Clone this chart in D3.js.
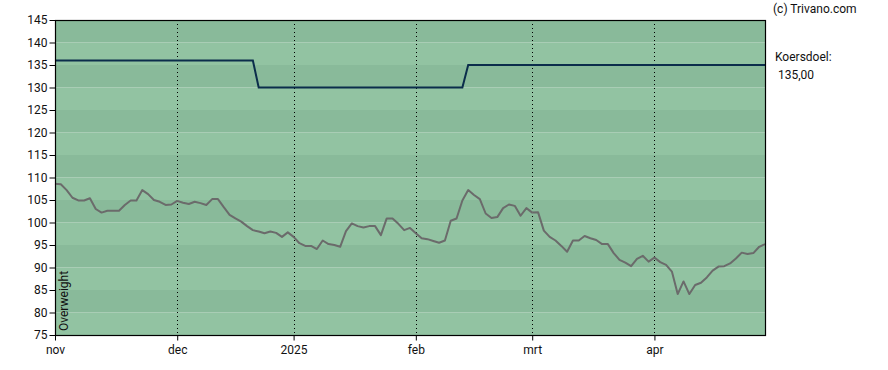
<!DOCTYPE html>
<html>
<head>
<meta charset="utf-8">
<script src="https://cdn.jsdelivr.net/npm/d3@7/dist/d3.min.js"></script>
<style>
  html, body { margin: 0; padding: 0; background: #fff; }
  svg text { font-family: Roboto, "Noto Sans", sans-serif; }
</style>
</head>
<body>
<svg id="chart" width="888" height="370"></svg>
<script>
// ---- data ----
const prices = [
  108.6, 108.5, 107.2, 105.5, 104.9, 104.9, 105.4, 103.0, 102.2, 102.6,
  102.6, 102.6, 103.9, 104.9, 104.9, 107.2, 106.3, 105.0, 104.6, 103.9,
  104.0, 104.8, 104.4, 104.1, 104.6, 104.3, 103.9, 105.2, 105.2, 103.4,
  101.7, 100.9, 100.2, 99.2, 98.3, 98.0, 97.6, 98.0, 97.7, 96.8,
  97.8, 96.8, 95.4, 94.8, 94.8, 94.1, 96.0, 95.2, 95.0, 94.6,
  98.1, 99.8, 99.2, 98.9, 99.2, 99.2, 97.2, 100.9, 100.9, 99.7,
  98.3, 98.8, 97.6, 96.5, 96.3, 95.9, 95.5, 96.0, 100.4, 100.9,
  104.9, 107.2, 106.1, 105.2, 102.0, 101.0, 101.2, 103.2, 104.0, 103.7,
  101.5, 103.2, 102.2, 102.3, 98.2, 96.8, 96.0, 94.8, 93.5, 96.0,
  96.0, 97.0, 96.5, 96.1, 95.2, 95.2, 93.2, 91.7, 91.1, 90.3,
  91.9, 92.6, 91.3, 92.2, 91.2, 90.6, 89.1, 84.1, 86.9, 84.1,
  86.1, 86.6, 87.8, 89.3, 90.2, 90.3, 90.9, 92.0, 93.3, 93.0,
  93.2, 94.6, 95.2
];
const targetIdx = [0, 34, 35, 70, 71, 122];
const targetVal = [136, 136, 130, 130, 135, 135];
const monthTickIdx = [0, 21, 41, 62, 82, 103];
const monthTickLabels = ["nov", "dec", "2025", "feb", "mrt", "apr"];
const yTicks = [75, 80, 85, 90, 95, 100, 105, 110, 115, 120, 125, 130, 135, 140, 145];
const bandStarts = [75, 80, 85, 90, 95, 100, 105, 110, 115, 120, 125, 130, 135, 140];
const ratingLabel = "Overweight";
const targetLabel = "Koersdoel:";
const targetText = "135,00";
const credit = "(c) Trivano.com";

// ---- layout ----
const L = 55, R = 765, T = 20, B = 335;
const svg = d3.select("#chart");
const x = d3.scaleLinear().domain([0, prices.length - 1]).range([L, R]);
const y = d3.scaleLinear().domain([75, 145]).range([B, T]);

// bands
svg.append("g").selectAll("rect").data(bandStarts).join("rect")
  .attr("x", L).attr("width", R - L)
  .attr("y", d => y(d + 5)).attr("height", d => y(d) - y(d + 5))
  .attr("fill", d => (d % 10 === 0) ? "#89ba9a" : "#92c3a2");

// vertical dotted grid
svg.append("g").selectAll("line").data(monthTickIdx.filter(d => d > 0)).join("line")
  .attr("x1", d => Math.round(x(d)) + 0.5).attr("x2", d => Math.round(x(d)) + 0.5)
  .attr("y1", T).attr("y2", B)
  .attr("stroke", "#000").attr("stroke-width", 1).attr("stroke-dasharray", "1,3");

// price line
svg.append("path").datum(prices)
  .attr("fill", "none").attr("stroke", "#6b6b6b").attr("stroke-width", 2)
  .attr("stroke-linejoin", "round")
  .attr("d", d3.line().x((d, i) => x(i)).y(d => y(d)));

// target line
svg.append("path").datum(targetIdx.map((d, i) => [d, targetVal[i]]))
  .attr("fill", "none").attr("stroke", "#0b2d4b").attr("stroke-width", 2)
  .attr("d", d3.line().x(d => x(d[0])).y(d => y(d[1])));

// frame
svg.append("rect").attr("x", L + 0.5).attr("y", T + 0.5)
  .attr("width", R - L).attr("height", B - T)
  .attr("fill", "none").attr("stroke", "#000").attr("stroke-width", 1.2);

// y axis
const yAxis = svg.append("g").attr("transform", `translate(${L + 0.5},0)`)
  .call(d3.axisLeft(y).tickValues(yTicks).tickSize(6).tickPadding(2).tickFormat(d3.format("d")));
yAxis.select(".domain").remove();
yAxis.selectAll("text").attr("font-size", 12).attr("fill", "#111");
yAxis.selectAll("line").attr("stroke", "#000");

// x axis
const xAxis = svg.append("g").attr("transform", `translate(0,${B + 0.5})`)
  .call(d3.axisBottom(x).tickValues(monthTickIdx).tickSize(5).tickPadding(5)
    .tickFormat((d, i) => monthTickLabels[i]));
xAxis.select(".domain").remove();
xAxis.selectAll("text").attr("font-size", 12).attr("fill", "#111");
xAxis.selectAll("line").attr("stroke", "#000");

// rating label
svg.append("text").attr("transform", `translate(67.5,${B - 4}) rotate(-90)`)
  .attr("font-size", 12).attr("fill", "#111").text(ratingLabel);

// right-side texts
svg.append("text").attr("x", 773).attr("y", 13).attr("font-size", 12).attr("fill", "#111").text(credit);
svg.append("text").attr("x", 775).attr("y", 61).attr("font-size", 12).attr("fill", "#111").text(targetLabel);
svg.append("text").attr("x", 778).attr("y", 79).attr("font-size", 12).attr("fill", "#111").text(targetText);
</script>
</body>
</html>
